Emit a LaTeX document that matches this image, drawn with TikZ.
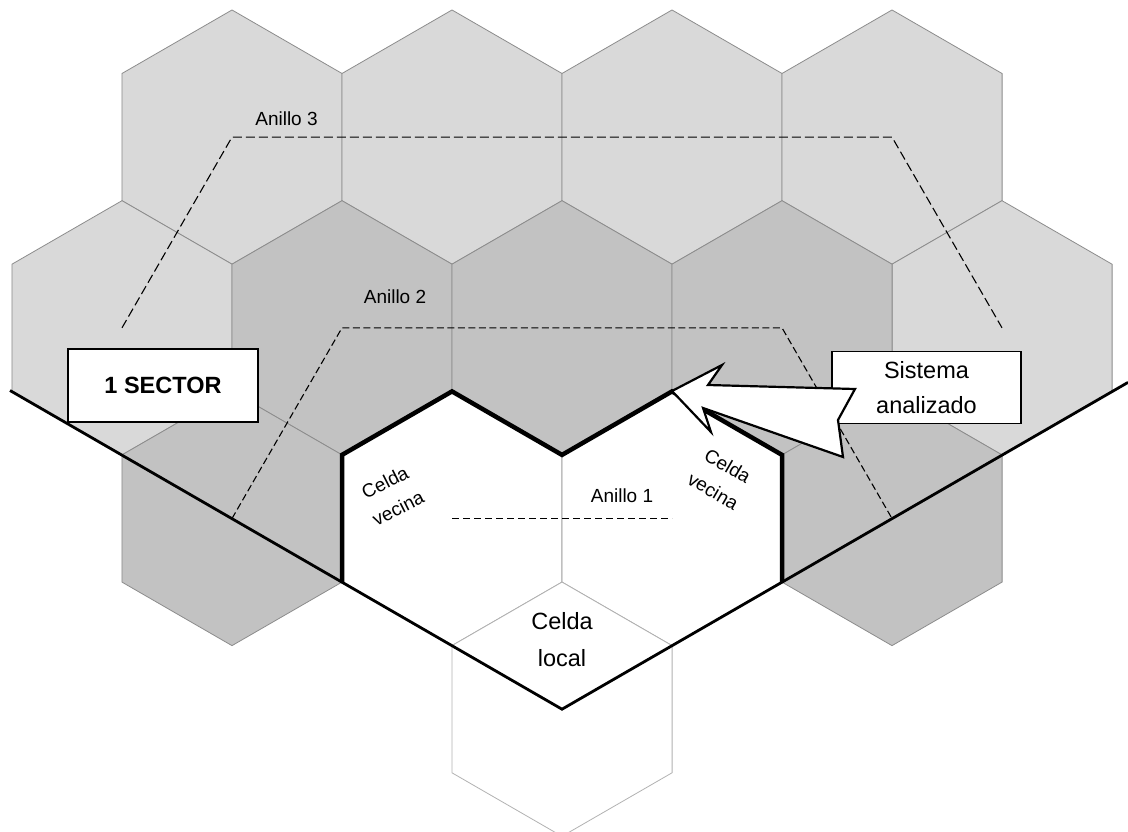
\documentclass[tikz,border=0pt]{standalone}
\usepackage{fontspec}
\setmainfont{Liberation Sans}
\definecolor{lightc}{gray}{0.85}
\definecolor{darkc}{gray}{0.76}
\definecolor{edgec}{gray}{0.55}
\definecolor{localedge}{gray}{0.7}
\begin{document}
\begin{tikzpicture}[x=1pt,y=-1pt,
  lightcell/.style={fill=lightc,draw=edgec,line width=0.8pt},
  darkcell/.style={fill=darkc,draw=edgec,line width=0.8pt},
  whitecell/.style={fill=white,draw=edgec,line width=0.8pt},
  localcell/.style={fill=white,draw=localedge,line width=0.8pt},
  ringline/.style={dash pattern=on 8pt off 4pt,line width=1.1pt},
  sectorline/.style={line width=2.8pt},
  boundline/.style={line width=4.5pt,line join=miter},
  labelbox/.style={draw,fill=white,line width=1.2pt,minimum width=190pt,minimum height=73pt,inner sep=0pt},
  callout/.style={draw,fill=white,line width=2.2pt,line join=miter},
  ringlabel/.style={font=\fontsize{19}{23}\selectfont,anchor=base,inner sep=0pt},
  celltext/.style={font=\fontsize{19}{29}\selectfont,align=center,inner sep=0pt},
  bigtext/.style={font=\fontsize{23.5}{37}\selectfont,align=center,inner sep=0pt}
]
\useasboundingbox (0,0) rectangle (1128,832);
% cell centres
\coordinate (c11) at (232,137.1);
\coordinate (c12) at (452,137.1);
\coordinate (c13) at (672,137.1);
\coordinate (c14) at (892,137.1);
\coordinate (c21) at (122,327.8);
\coordinate (c22) at (342,327.8);
\coordinate (c23) at (562,327.8);
\coordinate (c24) at (782,327.8);
\coordinate (c25) at (1002,327.8);
\coordinate (c31) at (232,518.5);
\coordinate (c32) at (452,518.5);
\coordinate (c33) at (672,518.5);
\coordinate (c34) at (892,518.5);
\coordinate (c41) at (562,709.2);
% cells
\foreach \n in {c11,c12,c13,c14,c21,c25}
  \path[lightcell] (\n) +(0,-127.13) -- +(110.1,-63.56) -- +(110.1,63.56) -- +(0,127.13) -- +(-110.1,63.56) -- +(-110.1,-63.56) -- cycle;
\foreach \n in {c22,c23,c24,c31,c34}
  \path[darkcell] (\n) +(0,-127.13) -- +(110.1,-63.56) -- +(110.1,63.56) -- +(0,127.13) -- +(-110.1,63.56) -- +(-110.1,-63.56) -- cycle;
\foreach \n in {c32,c33}
  \path[whitecell] (\n) +(0,-127.13) -- +(110.1,-63.56) -- +(110.1,63.56) -- +(0,127.13) -- +(-110.1,63.56) -- +(-110.1,-63.56) -- cycle;
\path[localcell] (c41) +(0,-127.13) -- +(110.1,-63.56) -- +(110.1,63.56) -- +(0,127.13) -- +(-110.1,63.56) -- +(-110.1,-63.56) -- cycle;
% rings
\draw[ringline,dash pattern=on 9pt off 4pt] (c21) -- (c11) -- (c14) -- (c25);
\draw[ringline,dash pattern=on 7pt off 3.5pt] (c31) -- (c22) -- (c24) -- (c34);
\draw[ringline,dash pattern=on 7pt off 4pt] (c32) -- (c33);
% sector
\coordinate (sl) at (10,390.5);
\coordinate (sr) at (1128,382.4);
\draw[sectorline] (sl) -- (c41) -- (sr);
% boundary of neighbour cells
\coordinate (p1) at (342,582.1);
\coordinate (p2) at (342,454.9);
\coordinate (p3) at (452,391.4);
\coordinate (p4) at (562,454.9);
\coordinate (p5) at (672,391.4);
\coordinate (p6) at (782,454.9);
\coordinate (p7) at (782,582.1);
\draw[boundline] (p1) -- (p2) -- (p3) -- (p4) -- (p5) -- (p6) -- (p7);
% boxes
\node[labelbox,font=\bfseries\fontsize{23.5}{28}\selectfont] (sector) at (163,385.5) {1 SECTOR};
\node[labelbox,minimum width=189pt,minimum height=72pt,align=center,font=\fontsize{23.5}{35}\selectfont] (sistema) at (926.5,387.5) {Sistema\\analizado};
% callout arrow
\coordinate (a1) at (672,391);
\coordinate (a2) at (722,365);
\coordinate (a3) at (708,385);
\coordinate (a4) at (855,389);
\coordinate (a5) at (838,420);
\coordinate (a6) at (843,457);
\coordinate (a7) at (703,408);
\coordinate (a8) at (711,432);
\draw[callout] (a1) -- (a2) -- (a3) -- (a4) -- (a5) -- (a6) -- (a7) -- (a8) -- cycle;
% labels
\node[ringlabel] (r3) at (286.5,126) {Anillo 3};
\node[ringlabel] (r2) at (395,303) {Anillo 2};
\node[ringlabel] (r1) at (622,502) {Anillo 1};
\node[celltext,rotate=27] (vecL) at (391.5,495.5) {Celda\\vecina};
\node[celltext,rotate=-30] (vecR) at (720.5,478.5) {Celda\\vecina};
\node[bigtext] (local) at (562,640) {Celda\\local};
\end{tikzpicture}
\end{document}
